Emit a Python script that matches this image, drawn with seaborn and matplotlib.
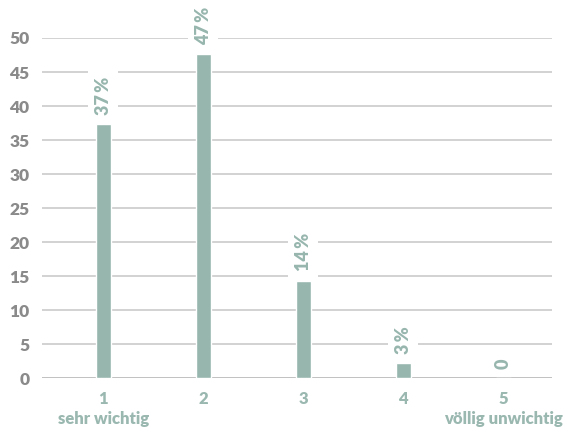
import matplotlib
matplotlib.use("Agg")
import matplotlib.pyplot as plt
from matplotlib.font_manager import FontProperties
import seaborn as sns
import pandas as pd

# Data
categories = ["1", "2", "3", "4", "5"]
sub_labels = ["sehr wichtig", "", "", "", "völlig unwichtig"]
values = [37.3, 47.6, 14.3, 2.2, 0]
bar_labels = ["37\u2009%", "47\u2009%", "14\u2009%", "3\u2009%", "0"]
y_ticks = [0, 5, 10, 15, 20, 25, 30, 35, 40, 45, 50]

BAR = "#97b6ae"
LABEL = "#97b6ae"
XTICK = "#9ab8b0"
YTICK = "#8a8a8a"
GRID = "#c6c6c6"

sns.set_theme(style="white")
plt.rcParams["font.family"] = ["Lato", "DejaVu Sans"]

fp_y = FontProperties(family="Lato", weight=800, size=12.5)
fp_x = FontProperties(family="Lato", weight=800, size=12)
fp_l = FontProperties(family="Lato", weight=800, size=13)

df = pd.DataFrame({"cat": categories, "val": values})

fig = plt.figure(figsize=(5.64, 4.28), dpi=100)
ax = fig.add_axes([42 / 564, 1 - 378.3 / 428, (551.7 - 42) / 564, (378.3 - 38) / 428])

ax.set_axisbelow(True)
for t in y_ticks:
    ax.axhline(t, color=GRID if t else "#b0b0b0", lw=1.1, zorder=0)

sns.barplot(data=df, x="cat", y="val", color=BAR, width=0.153, saturation=1,
            ax=ax, zorder=2)

ax.set_xlim(-0.613, 4.484)
ax.set_ylim(0, 50)
ax.set_yticks(y_ticks)
ax.set_yticklabels([str(t) for t in y_ticks], color=YTICK, fontproperties=fp_y)
ax.set_xticks(range(len(categories)))
ax.set_xticklabels([c + ("\n" + s if s else "") for c, s in zip(categories, sub_labels)],
                   color=XTICK, fontproperties=fp_x, linespacing=1.3, va="top")
ax.tick_params(axis="y", length=0, pad=9)
ax.tick_params(axis="x", length=0, pad=9)
ax.set_xlabel("")
ax.set_ylabel("")
for s in ax.spines.values():
    s.set_visible(False)

ax.bar_label(ax.containers[0], labels=bar_labels, padding=7, rotation=90,
             color=LABEL, fontproperties=fp_l, zorder=5,
             bbox=dict(boxstyle="square,pad=0.35", facecolor="white", edgecolor="none"))

fig.savefig("out.png", dpi=100, facecolor="white")
